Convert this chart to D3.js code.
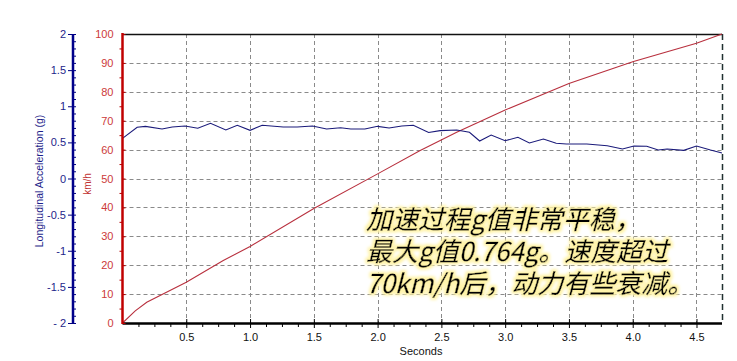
<!DOCTYPE html>
<html><head><meta charset="utf-8">
<script src="https://cdn.jsdelivr.net/npm/d3@7"></script>
<style>
html,body{margin:0;padding:0;background:#fff;}
svg{display:block;}
.tick text{font-family:"Liberation Sans",Arial,sans-serif;font-size:11px;}
</style></head>
<body>
<svg id="c" width="737" height="361"></svg>
<script>
// ---- data ----
const accelTime = [0,0.115,0.18,0.31,0.39,0.49,0.59,0.69,0.81,0.90,1.0,1.095,1.26,1.37,1.49,1.60,1.71,1.79,1.90,2.0,2.09,2.19,2.28,2.40,2.49,2.62,2.72,2.80,2.89,3.0,3.10,3.19,3.30,3.40,3.48,3.64,3.80,3.92,4.01,4.11,4.20,4.27,4.40,4.50,4.61,4.70];
const accelG    = [0.556,0.709,0.722,0.685,0.713,0.727,0.695,0.764,0.671,0.736,0.667,0.736,0.713,0.713,0.727,0.685,0.703,0.685,0.685,0.722,0.699,0.727,0.736,0.637,0.662,0.671,0.639,0.519,0.602,0.523,0.570,0.491,0.547,0.487,0.478,0.478,0.454,0.408,0.450,0.446,0.394,0.408,0.390,0.450,0.394,0.353];
const speedTime = [0,0.1,0.19,0.5,0.79,1.0,1.5,2.0,2.33,2.62,3.0,3.5,4.0,4.5,4.7];
const speedKmh  = [0,4.2,7.2,14.1,21.6,26.5,39.6,51.6,59.6,66.0,73.7,82.9,90.4,96.8,100];
const xTicks = [0.5,1,1.5,2,2.5,3,3.5,4,4.5];
const speedTicks = [0,10,20,30,40,50,60,70,80,90,100];
const accelTicks = [-2,-1.5,-1,-0.5,0,0.5,1,1.5,2];
const accelTickLabels = ["- 2","-1.5","-1","-0.5","0","0.5","1","1.5","2"];
const annotation = ["加速过程g值非常平稳，","最大g值0.764g。速度超过","70km/h后，动力有些衰减。"];

// ---- layout ----
const L = 122.5, R = 722, T = 34, B = 323, blueX = 73;
const svg = d3.select("#c");
const x = d3.scaleLinear().domain([0,4.7]).range([L,R]);
const yS = d3.scaleLinear().domain([0,100]).range([B,T]);
const yA = d3.scaleLinear().domain([-2,2]).range([B,T]);

// glow filter for annotation
const f = svg.append("defs").append("filter").attr("id","glow")
  .attr("x","-5%").attr("y","-10%").attr("width","110%").attr("height","120%");
f.append("feMorphology").attr("in","SourceAlpha").attr("operator","dilate").attr("radius",1.8).attr("result","d");
f.append("feGaussianBlur").attr("in","d").attr("stdDeviation",1.4).attr("result","b");
f.append("feFlood").attr("flood-color","#fff3a6").attr("result","fl");
f.append("feComposite").attr("in","fl").attr("in2","b").attr("operator","in").attr("result","g");
const fm = f.append("feMerge");
fm.append("feMergeNode").attr("in","g");
fm.append("feMergeNode").attr("in","SourceGraphic");

// grid
const grid = svg.append("g").attr("stroke","#8a8a8a").attr("stroke-dasharray","4,3").attr("stroke-width",1);
xTicks.forEach(v=>grid.append("line").attr("x1",Math.round(x(v))+0.5).attr("x2",Math.round(x(v))+0.5).attr("y1",T).attr("y2",B));
speedTicks.filter(v=>v>0&&v<100).forEach(v=>grid.append("line").attr("x1",L).attr("x2",R).attr("y1",Math.round(yS(v))+0.5).attr("y2",Math.round(yS(v))+0.5));

// frame top & right
svg.append("line").attr("x1",L).attr("x2",R).attr("y1",T+0.5).attr("y2",T+0.5).attr("stroke","#111").attr("stroke-width",1.5);
svg.append("line").attr("x1",R+0.5).attr("x2",R+0.5).attr("y1",T).attr("y2",B).attr("stroke","#203030").attr("stroke-dasharray","6,4").attr("stroke-width",1.5);

// data lines
const line = d3.line().x(d=>x(d[0])).y(d=>d[1]);
svg.append("path").attr("d", line(speedTime.map((t,i)=>[t,yS(speedKmh[i])])))
  .attr("fill","none").attr("stroke","#b8303e").attr("stroke-width",1.1);
svg.append("path").attr("d", line(accelTime.map((t,i)=>[t,yA(accelG[i])])))
  .attr("fill","none").attr("stroke","#1a1a7a").attr("stroke-width",1.1);

// bottom axis
const gx = svg.append("g").attr("transform",`translate(0,${B})`)
  .call(d3.axisBottom(x).tickValues(xTicks).tickSize(5).tickPadding(5.5));
gx.select(".domain").remove();
gx.selectAll(".tick line").attr("y1",-4).attr("stroke","#000");
gx.selectAll(".tick text").attr("fill","#111");
const gxm = svg.append("g").attr("transform",`translate(0,${B})`)
  .call(d3.axisBottom(x).tickValues(d3.range(0,37).map(i=>i*0.125).filter(v=>v%0.5!==0)).tickSize(4).tickFormat(""));
gxm.select(".domain").remove();
gxm.selectAll(".tick line").attr("stroke","#000");
svg.append("line").attr("x1",L).attr("x2",R).attr("y1",B+0.5).attr("y2",B+0.5).attr("stroke","#000").attr("stroke-width",2.5);

// red speed axis
const gs = svg.append("g").attr("transform",`translate(${L},0)`)
  .call(d3.axisLeft(yS).tickValues(speedTicks).tickSize(6).tickPadding(3));
gs.select(".domain").remove();
gs.selectAll(".tick line").attr("x2",3).attr("stroke","#b00000");
gs.selectAll(".tick text").attr("fill","#cc3a3a");
const gsm = svg.append("g").attr("transform",`translate(${L},0)`)
  .call(d3.axisLeft(yS).tickValues(d3.range(5,100,10)).tickSize(3).tickFormat(""));
gsm.select(".domain").remove();
gsm.selectAll(".tick line").attr("stroke","#b00000");
svg.append("line").attr("x1",L).attr("x2",L).attr("y1",T-1).attr("y2",B+1).attr("stroke","#c00000").attr("stroke-width",2.5);

// blue acceleration axis
const ga = svg.append("g").attr("transform",`translate(${blueX},0)`)
  .call(d3.axisLeft(yA).tickValues(accelTicks).tickSize(5).tickPadding(2).tickFormat((d,i)=>accelTickLabels[i]));
ga.select(".domain").remove();
ga.selectAll(".tick line").attr("stroke","#000080");
ga.selectAll(".tick text").attr("fill","#1e1e8a");
const gam = svg.append("g").attr("transform",`translate(${blueX},0)`)
  .call(d3.axisRight(yA).tickValues(d3.range(-20,21).map(i=>i/10)).tickSize(3).tickFormat(""));
gam.select(".domain").remove();
gam.selectAll(".tick line").attr("stroke","#000080");
svg.append("line").attr("x1",blueX).attr("x2",blueX).attr("y1",T).attr("y2",B).attr("stroke","#00008a").attr("stroke-width",2.5);

// axis titles
svg.append("text").attr("transform","translate(43,181) rotate(-90)").attr("text-anchor","middle")
  .attr("font-family","Liberation Sans, Arial, sans-serif").attr("font-size",10.5).attr("fill","#1e1e8a")
  .text("Longitudinal Acceleration (g)");
svg.append("text").attr("transform","translate(91,184) rotate(-90)").attr("text-anchor","middle")
  .attr("font-family","Liberation Sans, Arial, sans-serif").attr("font-size",10).attr("fill","#c03030")
  .text("km/h");
svg.append("text").attr("x",421).attr("y",355).attr("text-anchor","middle")
  .attr("font-family","Liberation Sans, Arial, sans-serif").attr("font-size",11).attr("fill","#111")
  .text("Seconds");

// annotation (one text element, three lines)
const ann = svg.append("text").attr("x",366).attr("y",229)
  .attr("font-family","Noto Sans CJK SC, sans-serif").attr("font-size",26).attr("font-style","italic")
  .attr("fill","#000").attr("stroke","#000").attr("stroke-width",0.3).attr("filter","url(#glow)");
annotation.forEach((s,i)=>{
  ann.append("tspan").attr("x",366).attr("dy", i===0 ? 0 : 32).text(s);
});
</script>
</body></html>
